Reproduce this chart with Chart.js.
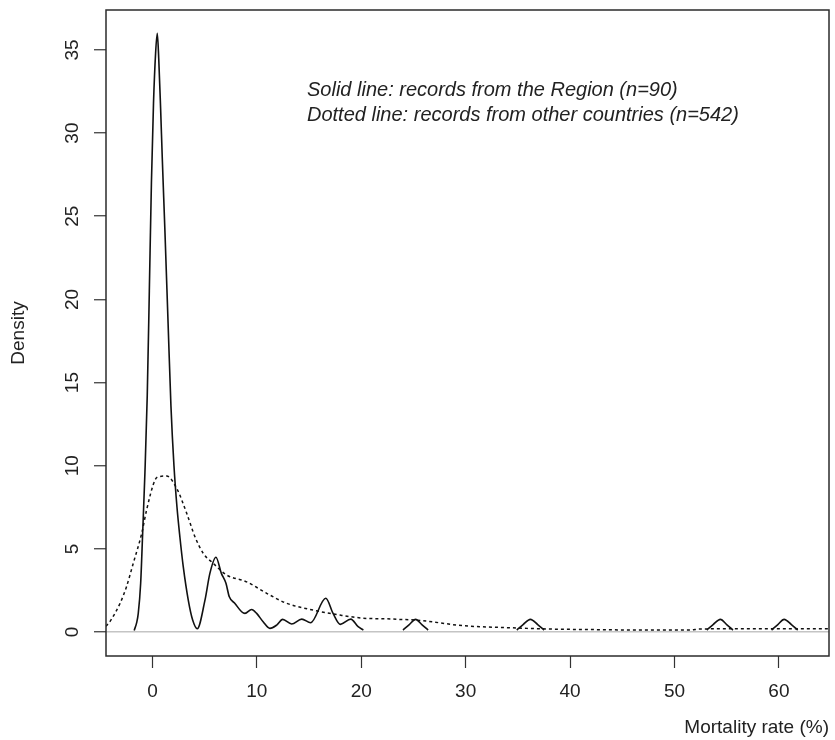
<!DOCTYPE html>
<html><head><meta charset="utf-8">
<script src="https://cdn.jsdelivr.net/npm/chart.js@4"></script>
<style>html,body{margin:0;padding:0;background:#fff}canvas{display:block}</style>
</head><body>
<canvas id="c" width="835" height="740"></canvas>
<script>
// Solid line: records from the Region (null = break between separate bumps)
const regionX = [-1.75,-1.5,-1.36,-1.13,-0.94,-0.72,-0.5,-0.3,-0.1,0.1,0.3,0.46,0.6,0.78,0.94,1.2,1.5,1.77,2.06,2.35,2.63,2.95,3.43,3.85,4.29,5.03,5.5,6.08,6.6,7.04,7.36,7.9,8.54,8.86,9.5,9.98,10.6,11.25,11.9,12.47,13.33,14.3,15.15,16.6,17.3,18.0,19.0,19.7,20.2,
  22,24.0,24.6,25.2,25.8,26.4,
  30,34.9,35.5,36.2,36.9,37.5,
  45,53.1,53.7,54.4,55.0,55.6,
  57,59.3,59.9,60.5,61.2,61.8];
const regionY = [0.1,0.6,1.12,2.93,5.93,9.6,14.2,20.5,27.0,31.8,34.8,36.0,34.5,31.5,28.5,24.0,18.5,13.6,10.0,7.5,5.7,3.93,1.92,0.72,0.2,1.92,3.53,4.5,3.53,2.93,2.12,1.72,1.22,1.12,1.36,1.12,0.62,0.22,0.42,0.76,0.48,0.78,0.56,2.03,1.12,0.46,0.78,0.32,0.12,
  null,0.12,0.45,0.76,0.45,0.12,
  null,0.12,0.45,0.76,0.45,0.12,
  null,0.12,0.45,0.76,0.45,0.12,
  null,0.12,0.45,0.76,0.45,0.12];
// Dotted line: records from other countries
const otherX = [-4.45,-4.0,-3.11,-2.5,-1.84,-1.03,-0.56,0.24,0.7,1.36,2.32,3.28,4.07,4.87,5.82,7.1,9.02,10.94,12.85,15.4,17.96,20.5,22.1,23.7,25.3,29.8,34.2,38.1,42,46.7,51.5,52.4,57,64.8];
const otherY = [0.35,0.7,1.72,2.7,4.13,5.93,7.34,9.14,9.35,9.38,8.64,7.14,5.73,4.73,4.13,3.43,3.02,2.33,1.73,1.32,1.02,0.82,0.8,0.76,0.72,0.38,0.26,0.18,0.15,0.12,0.12,0.18,0.2,0.2];

const xTicks = [0,10,20,30,40,50,60];
const yTicks = [0,5,10,15,20,25,30,35];
const xTitle = 'Mortality rate (%)';
const yTitle = 'Density';
const annotationLines = ['Solid line: records from the Region (n=90)', 'Dotted line: records from other countries (n=542)'];

const FONT = '"Liberation Sans", Arial, sans-serif';
const TXT = '#222';

const framePlugin = {
  id: 'frameAndText',
  afterDraw(chart) {
    const {ctx, chartArea: a, scales: {y}} = chart;
    ctx.save();
    ctx.strokeStyle = '#2b2b2b';
    ctx.lineWidth = 1.5;
    ctx.strokeRect(a.left, a.top, a.right - a.left, a.bottom - a.top);
    ctx.fillStyle = TXT;
    ctx.font = '19px ' + FONT;
    ctx.textAlign = 'center';
    ctx.textBaseline = 'alphabetic';
    y.ticks.forEach(t => {
      const py = y.getPixelForValue(t.value);
      ctx.save();
      ctx.translate(a.left - 28, py);
      ctx.rotate(-Math.PI / 2);
      ctx.fillText(String(t.value), 0, 0);
      ctx.restore();
    });
    ctx.font = 'italic 20px ' + FONT;
    ctx.textAlign = 'left';
    ctx.textBaseline = 'middle';
    annotationLines.forEach((s, i) => ctx.fillText(s, a.left + 201, a.top + 80 + i * 25));
    ctx.restore();
  }
};

new Chart(document.getElementById('c'), {
  type: 'line',
  data: {
    datasets: [
      {
        label: 'Region',
        data: regionX.map((x, i) => ({x, y: regionY[i]})),
        borderColor: '#111', borderWidth: 1.6, pointRadius: 0,
        cubicInterpolationMode: 'monotone', fill: false, spanGaps: false
      },
      {
        label: 'Other countries',
        data: otherX.map((x, i) => ({x, y: otherY[i]})),
        borderColor: '#111', borderWidth: 1.5, borderDash: [3, 3], pointRadius: 0,
        cubicInterpolationMode: 'monotone', fill: false
      }
    ]
  },
  options: {
    responsive: false,
    animation: false,
    devicePixelRatio: 1,
    layout: {padding: {top: 10, right: 6, left: 0, bottom: 0}},
    plugins: {legend: {display: false}, tooltip: {enabled: false}},
    scales: {
      x: {
        type: 'linear', min: -4.45, max: 64.8,
        afterBuildTicks: s => { s.ticks = xTicks.map(v => ({value: v})); },
        afterFit: s => { s.height = 84; },
        grid: {drawOnChartArea: false, tickColor: '#333', tickLength: 12, tickWidth: 1.2},
        border: {display: false},
        ticks: {autoSkip: false, maxRotation: 0, padding: 12, color: TXT, font: {family: FONT, size: 19}},
        title: {display: true, text: xTitle, align: 'end', color: TXT, font: {family: FONT, size: 19}, padding: {top: 0, bottom: 1}}
      },
      y: {
        type: 'linear', min: -1.44, max: 37.4,
        afterBuildTicks: s => { s.ticks = yTicks.map(v => ({value: v})); },
        afterFit: s => { s.width = 106; },
        grid: {
          drawOnChartArea: true,
          color: c => (c.tick && c.tick.value === 0) ? '#c4c4c4' : 'rgba(0,0,0,0)',
          lineWidth: 1.5,
          tickColor: '#333', tickLength: 12, tickWidth: 1.2
        },
        border: {display: false},
        ticks: {display: false},
        title: {display: true, text: yTitle, color: TXT, font: {family: FONT, size: 19}, padding: {top: 7, bottom: 0}}
      }
    }
  },
  plugins: [framePlugin]
});
</script>
</body></html>
